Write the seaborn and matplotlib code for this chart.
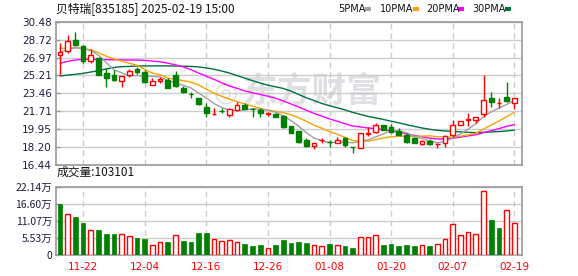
import numpy as np
import pandas as pd
import matplotlib
matplotlib.use("Agg")
import matplotlib.pyplot as plt
from matplotlib.patches import Rectangle
import seaborn as sns

# ---------------- data ----------------
title_text = "贝特瑞[835185] 2025-02-19 15:00"
x_tick_idx = [3, 11, 19, 27, 35, 43, 51, 59]
x_tick_labels = ["11-22", "12-04", "12-16", "12-26", "01-08", "01-20", "02-07", "02-19"]
price_ticks = [16.44, 18.20, 19.95, 21.71, 23.46, 25.21, 26.97, 28.72, 30.48]
vol_ticks = [0, 5.53, 11.07, 16.60, 22.14]
vol_tick_labels = ["0", "5.53万", "11.07万", "16.60万", "22.14万"]
last_volume = "103101"

opens = [27.24, 27.63, 28.71, 28.12, 26.62, 26.92, 25.48, 25.26, 24.70, 25.26,
         25.81, 25.58, 24.28, 24.64, 24.79, 25.30, 23.97, 23.43, 23.02, 22.09,
         21.43, 21.72, 21.34, 21.83, 22.32, 21.95, 21.83, 21.48, 21.43, 21.24,
         20.26, 19.77, 18.89, 18.30, 18.87, 18.70, 18.63, 19.05, 18.18, 18.14,
         19.51, 19.64, 20.33, 20.20, 19.80, 19.38, 19.05, 18.47, 18.79, 18.49,
         18.56, 19.38, 20.39, 20.88, 20.88, 21.40, 23.00, 22.52, 23.10, 22.48]
highs = [28.39, 29.20, 29.43, 28.15, 27.80, 27.05, 25.91, 25.75, 25.16, 25.81,
         26.07, 25.75, 24.93, 25.09, 25.00, 25.65, 24.18, 23.64, 23.05, 22.48,
         21.99, 22.02, 21.99, 22.64, 22.48, 21.99, 21.99, 21.66, 21.50, 21.34,
         20.26, 19.77, 19.05, 18.63, 19.05, 18.89, 19.22, 19.22, 18.18, 19.54,
         20.13, 20.52, 20.33, 20.46, 20.03, 19.54, 19.22, 18.89, 18.96, 18.63,
         19.38, 20.85, 20.75, 21.50, 21.18, 25.26, 23.62, 22.97, 24.61, 22.97]
lows = [25.27, 27.41, 28.06, 26.46, 26.42, 25.26, 24.05, 24.70, 24.05, 25.09,
        25.32, 24.44, 24.28, 24.44, 23.95, 24.13, 23.46, 23.05, 22.36, 21.18,
        21.34, 21.50, 21.11, 21.76, 21.89, 21.18, 21.18, 21.27, 21.18, 20.10,
        19.54, 18.63, 18.24, 17.98, 18.56, 18.24, 18.56, 18.24, 17.65, 18.07,
        19.28, 19.54, 19.87, 19.54, 19.38, 18.63, 18.63, 18.37, 18.40, 18.10,
        18.24, 19.22, 20.33, 20.26, 20.52, 21.18, 22.09, 21.99, 22.64, 21.92]
closes = [27.56, 28.61, 28.22, 26.62, 27.22, 25.30, 24.99, 24.72, 25.16, 25.68,
          25.52, 24.60, 24.70, 24.86, 24.00, 24.15, 23.56, 23.40, 22.38, 21.50,
          21.46, 21.70, 21.89, 22.32, 21.89, 21.92, 21.50, 21.50, 21.18, 20.20,
          19.61, 18.73, 18.30, 18.56, 18.89, 18.69, 18.89, 18.40, 18.16, 19.54,
          19.54, 20.33, 19.87, 19.71, 19.38, 18.73, 18.63, 18.79, 18.47, 18.50,
          19.31, 20.33, 20.75, 20.92, 21.11, 22.81, 22.64, 22.55, 22.74, 22.97]

ma5 = [27.50, 27.75, 27.95, 27.85, 27.65, 27.19, 26.47, 25.77, 25.48, 25.17,
       25.21, 25.14, 25.13, 25.07, 24.74, 24.46, 24.25, 23.99, 23.50, 23.00,
       22.46, 22.09, 21.79, 21.77, 21.85, 21.94, 21.90, 21.83, 21.60, 21.26,
       20.80, 20.24, 19.60, 19.08, 18.82, 18.63, 18.67, 18.69, 18.61, 18.74,
       18.91, 19.19, 19.49, 19.80, 19.77, 19.60, 19.26, 19.05, 18.80, 18.62,
       18.74, 19.08, 19.47, 19.96, 20.48, 21.18, 21.65, 22.01, 22.37, 22.74]
ma10 = [27.87, 27.90, 27.92, 27.88, 27.70, 27.45, 27.10, 26.85, 26.62, 26.41,
        26.20, 25.80, 25.45, 25.28, 24.95, 24.84, 24.70, 24.56, 24.29, 23.87,
        23.46, 23.17, 22.89, 22.64, 22.43, 22.20, 22.00, 21.81, 21.69, 21.56,
        21.37, 21.07, 20.72, 20.34, 20.04, 19.72, 19.46, 19.15, 18.84, 18.78,
        18.77, 18.93, 19.09, 19.20, 19.25, 19.26, 19.23, 19.27, 19.30, 19.20,
        19.17, 19.17, 19.26, 19.38, 19.55, 19.96, 20.36, 20.74, 21.17, 21.61]
ma20 = [26.40, 26.60, 26.73, 26.79, 26.80, 26.78, 26.76, 26.75, 26.74, 26.73,
        26.72, 26.68, 26.62, 26.55, 26.42, 26.25, 26.05, 25.78, 25.45, 25.14,
        24.83, 24.49, 24.17, 23.96, 23.69, 23.52, 23.35, 23.18, 22.99, 22.71,
        22.42, 22.12, 21.80, 21.49, 21.23, 20.96, 20.73, 20.48, 20.26, 20.17,
        20.07, 20.00, 19.90, 19.77, 19.65, 19.49, 19.34, 19.21, 19.07, 18.99,
        18.97, 19.05, 19.17, 19.29, 19.40, 19.61, 19.80, 20.00, 20.23, 20.40]
ma30 = [25.16, 25.25, 25.33, 25.42, 25.55, 25.68, 25.85, 26.00, 26.07, 26.10,
        26.14, 26.15, 26.15, 26.15, 26.15, 26.14, 26.12, 26.10, 26.05, 25.95,
        25.82, 25.65, 25.45, 25.20, 24.95, 24.70, 24.47, 24.26, 24.10, 23.94,
        23.68, 23.35, 23.02, 22.75, 22.47, 22.25, 22.05, 21.84, 21.60, 21.40,
        21.20, 21.06, 20.90, 20.73, 20.57, 20.39, 20.23, 20.07, 19.94, 19.84,
        19.77, 19.73, 19.69, 19.64, 19.61, 19.64, 19.68, 19.72, 19.77, 19.86]

volumes_wan = [16.55, 13.33, 12.36, 10.43, 8.06, 8.17, 6.88, 6.88, 6.77, 6.13,
               5.59, 5.27, 3.22, 4.30, 4.30, 6.45, 4.62, 4.30, 7.20, 7.20,
               5.16, 4.51, 4.84, 4.30, 3.65, 3.01, 3.33, 2.26, 3.33, 4.94,
               3.98, 4.30, 3.98, 3.22, 3.01, 3.76, 3.22, 3.01, 2.36, 5.80,
               5.80, 6.45, 3.33, 3.65, 3.01, 3.33, 3.01, 3.22, 3.01, 3.65,
               5.16, 10.10, 6.45, 7.42, 6.88, 20.64, 11.39, 8.81, 14.51, 10.31]
vol_up = [0, 1, 0, 0, 1, 0, 0, 0, 1, 1, 0, 0, 1, 1, 0, 1, 0, 0, 0, 0,
          1, 1, 1, 1, 0, 0, 0, 1, 0, 0, 0, 0, 0, 1, 1, 0, 1, 0, 0, 1,
          1, 1, 0, 0, 0, 0, 0, 1, 0, 1, 1, 1, 1, 1, 1, 1, 0, 0, 1, 1]

# ---------------- style ----------------
RED = "#ff0000"
GREEN = "#008000"
MA_COLORS = {"5PMA": "#a0a0a0", "10PMA": "#f5a300", "20PMA": "#ff00ff", "30PMA": "#00703c"}
GRID = "#cccccc"
SPINE = "#999999"
TICKC = "#1e1e3c"
CJK = ["Noto Sans CJK SC", "DejaVu Sans"]

sns.set_theme(style="white")
plt.rcParams["font.family"] = ["DejaVu Sans"]

W, H = 578, 276
fig = plt.figure(figsize=(W / 100, H / 100), dpi=100)
fig.patch.set_facecolor("white")

def fx(px):
    return px / W

def fy(py):
    return 1 - py / H

ax = fig.add_axes([fx(56), fy(165), fx(522) - fx(56), (165 - 21.7) / H])
axv = fig.add_axes([fx(56), fy(255.3), fx(522) - fx(56), (255.3 - 186.7) / H])

n = len(closes)
idx = np.arange(n)
xlim = (-0.52, 60.0)

# watermark (logo ring + name)
ax.text(0.55, 0.515, "东方财富", transform=ax.transAxes, ha="center", va="center",
        fontsize=25, fontweight="bold", color="#dfdfe4", family=CJK, zorder=0)
ax.text(0.365, 0.51, "◎", transform=ax.transAxes, ha="center", va="center",
        fontsize=20, fontweight="bold", color="#dfdfe4", family=["DejaVu Sans"], zorder=0)

# grid
for a, yt in ((ax, price_ticks), (axv, vol_ticks)):
    for y in yt:
        a.axhline(y, color=GRID, lw=1.0, zorder=0.5)
    for xi in x_tick_idx:
        a.axvline(xi, color=GRID, lw=1.0, ls=(0, (4, 3)), zorder=0.5)

# MA lines (seaborn)
for name, vals in (("30PMA", ma30), ("20PMA", ma20), ("10PMA", ma10), ("5PMA", ma5)):
    sns.lineplot(x=idx, y=vals, color=MA_COLORS[name], lw=1.0, ax=ax, zorder=2, legend=False)

# candles
o = np.array(opens); c = np.array(closes); h = np.array(highs); l = np.array(lows)
up = c >= o
body_w = 0.6
for i in range(n):
    col = RED if up[i] else GREEN
    top = max(o[i], c[i]); bot = min(o[i], c[i])
    ax.vlines(i, l[i], bot, color=col, lw=1.0, zorder=3)
    ax.vlines(i, top, h[i], color=col, lw=1.0, zorder=3)
    hgt = max(top - bot, 0.02)
    ax.bar(i, hgt, bottom=bot, width=body_w,
           facecolor="white" if up[i] else col, edgecolor=col, lw=1.0, zorder=4)

ax.set_xlim(*xlim)
ax.set_ylim(price_ticks[0], price_ticks[-1])
ax.set_yticks(price_ticks)
ax.set_yticklabels([f"{v:.2f}" for v in price_ticks])
ax.set_xticks([])
ax.set_xlabel(""); ax.set_ylabel("")

# volume (seaborn barplot)
vdf = pd.DataFrame({"idx": idx, "vol": volumes_wan,
                    "dir": ["up" if u else "down" for u in vol_up]})
sns.barplot(data=vdf, x="idx", y="vol", hue="dir", palette={"up": RED, "down": GREEN},
            dodge=False, native_scale=True, width=0.6, saturation=1, legend=False,
            ax=axv, zorder=3)
for p in axv.patches:
    fc = p.get_facecolor()
    if fc[0] > 0.9 and fc[1] < 0.2:
        p.set_facecolor("white")
        p.set_edgecolor(RED)
        p.set_linewidth(1.0)
    else:
        p.set_edgecolor(GREEN)
        p.set_linewidth(0.5)
axv.set_xlim(*xlim)
axv.set_ylim(0, vol_ticks[-1])
axv.set_yticks(vol_ticks)
axv.set_yticklabels(vol_tick_labels, family=CJK)
axv.set_xticks(x_tick_idx)
axv.set_xticklabels(x_tick_labels, color=RED)
axv.set_xlabel(""); axv.set_ylabel("")

for a in (ax, axv):
    for s in a.spines.values():
        s.set_color(SPINE)
        s.set_linewidth(1.2)
    a.tick_params(axis="y", direction="in", length=3, width=1, color=SPINE,
                  labelsize=7.5, labelcolor=TICKC, pad=3, left=True)
    a.grid(False)
axv.tick_params(axis="x", length=0, labelsize=7.5, pad=5)

# texts
fig.text(fx(56), fy(9), title_text, family=CJK, fontsize=8.5, va="center", ha="left", color="#111111")
fig.text(fx(57), fy(172), "成交量:" + last_volume, family=CJK, fontsize=8.5, va="center", ha="left", color="#111111")

legend_items = [("5PMA", 338, 365), ("10PMA", 380, 413), ("20PMA", 426, 458), ("30PMA", 472, 505)]
for name, tx, mx in legend_items:
    fig.text(fx(tx), fy(9), name, fontsize=7, va="center", ha="left", color="#111111")
    fig.patches.append(Rectangle((fx(mx), fy(10.5)), 6 / W, 3 / H, transform=fig.transFigure,
                                 facecolor=MA_COLORS[name], edgecolor="none"))

fig.savefig("out.png", dpi=100)
